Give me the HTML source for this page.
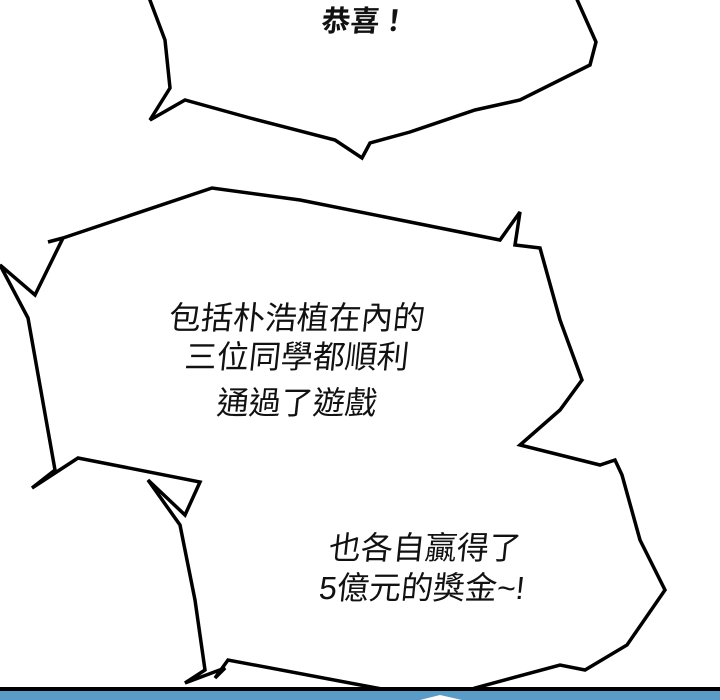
<!DOCTYPE html>
<html><head><meta charset="utf-8"><style>
html,body{margin:0;padding:0;background:#fff}
body{width:720px;height:700px;position:relative;overflow:hidden}
svg{position:absolute;left:0;top:0}
.t{position:absolute;font-family:"Liberation Sans","Noto Sans CJK TC",sans-serif;color:#111;white-space:nowrap;text-align:center;transform:skewX(-6deg);line-height:40px;height:40px}
</style></head><body>
<svg width="720" height="700" viewBox="0 0 720 700">
<g fill="#fff" stroke="#000" stroke-width="3.5" stroke-linejoin="miter">
<polygon points="148,-5 165,40 170,88 150,120 185,100 250,118 335,140 362,158 370,143 410,132 475,110 520,100 590,65 596,42 575,-5"/>
<polygon points="48,242 63,238 212,188 300,200 500,240 520,212 515,245 540,248 560,320 582,380 560,410 520,445 600,465 615,460 622,475 640,540 665,590 627,645 585,670 560,665 475,688 440,700 228,660 215,678 225,668 185,683 205,670 195,600 180,525 148,480 185,515 200,482 78,458 32,488 55,470 28,318 0,265 35,295 63,238"/>
</g>
<rect x="0" y="687" width="720" height="4" fill="#000"/>
<rect x="0" y="691" width="720" height="9" fill="#5a9cc8"/>
<polygon points="420,700 440,695 462,700" fill="#fff"/>
</svg>
<div class="t" style="left:290px;top:2px;width:150px;font-size:29px;font-weight:bold">恭喜！</div>
<div class="t" style="left:97px;top:298px;width:400px;font-size:32px">包括朴浩植在內的</div>
<div class="t" style="left:97px;top:337px;width:400px;font-size:32px">三位同學都順利</div>
<div class="t" style="left:97px;top:383px;width:400px;font-size:32px">通過了遊戲</div>
<div class="t" style="left:275px;top:528px;width:300px;font-size:32px">也各自贏得了</div>
<div class="t" style="left:272px;top:568px;width:300px;font-size:32px">5億元的獎金~!</div>
</body></html>
